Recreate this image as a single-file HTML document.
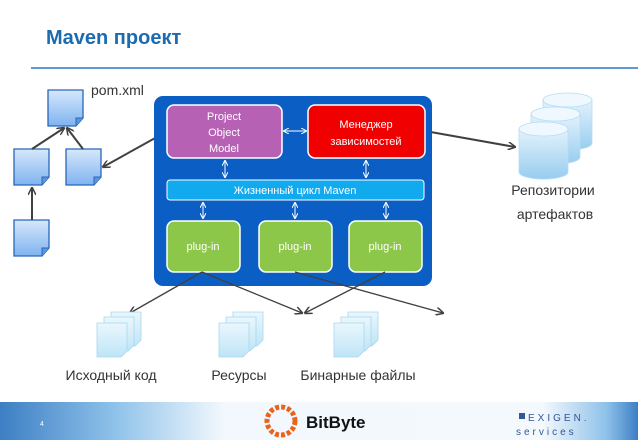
<!DOCTYPE html>
<html><head><meta charset="utf-8"><style>
body{margin:0;background:#fff;width:638px;height:442px;overflow:hidden}
svg text{font-family:"Liberation Sans","DejaVu Sans",sans-serif}
</style></head><body>
<svg width="638" height="442" viewBox="0 0 638 442" xmlns="http://www.w3.org/2000/svg">
<defs>
<linearGradient id="doc" x1="0" y1="0" x2="0" y2="1"><stop offset="0" stop-color="#d6e8fb"/><stop offset="1" stop-color="#7fb3f0"/></linearGradient>
<linearGradient id="pg" x1="0" y1="0" x2="0" y2="1"><stop offset="0" stop-color="#eaf7fd"/><stop offset="1" stop-color="#bfe5f7"/></linearGradient>
<linearGradient id="cyl" x1="0" y1="0" x2="0" y2="1"><stop offset="0" stop-color="#e3f3fc"/><stop offset="1" stop-color="#98ccf0"/></linearGradient>
<linearGradient id="foot" x1="0" y1="0" x2="1" y2="0"><stop offset="0" stop-color="#3d7fc4"/><stop offset="0.18" stop-color="#8fc2ea"/><stop offset="0.35" stop-color="#f2f8fd"/><stop offset="0.85" stop-color="#f4f9fd"/><stop offset="0.95" stop-color="#8fc2ea"/><stop offset="1" stop-color="#3d7fc4"/></linearGradient>
<marker id="ah" markerWidth="8" markerHeight="8" refX="7" refY="4" orient="auto" markerUnits="userSpaceOnUse"><path d="M0,0 L8,4 L0,8" fill="none" stroke="#404040" stroke-width="1.5"/></marker>
<marker id="wa" markerWidth="6" markerHeight="6" refX="5" refY="3" orient="auto-start-reverse" markerUnits="userSpaceOnUse"><path d="M0,0 L6,3 L0,6" fill="none" stroke="#fff" stroke-width="1"/></marker>
<g id="d"><path d="M0,0 H35 V28 L28,36 H0 Z" fill="url(#doc)" stroke="#2a66b8" stroke-width="1.3"/><path d="M35,28 L28,28 L28,36" fill="#5a95dd" stroke="#2a66b8" stroke-width="1"/></g>
<g id="p"><path d="M0,0 H30 V28 L24,34 H0 Z" fill="url(#pg)" stroke="#a9d6ee" stroke-width="0.8"/></g>
<g id="st"><use href="#p" x="14" y="0"/><use href="#p" x="7" y="5"/><use href="#p" x="0" y="11"/></g>
<g id="cy"><path d="M0,7 V50 A24,7 0 0 0 49,50 V7" fill="url(#cyl)" stroke="#b7dcf4" stroke-width="0.8"/><ellipse cx="24.5" cy="7" rx="24.5" ry="7" fill="#eef8fe" stroke="#b7dcf4" stroke-width="0.8"/></g>
</defs>

<text x="46" y="44" font-size="20" font-weight="bold" fill="#1b6bb3" font-family="DejaVu Sans,Liberation Sans,sans-serif">Maven проект</text>
<line x1="31" y1="68" x2="638" y2="68" stroke="#2a78c4" stroke-width="1.5"/>

<!-- left docs -->
<use href="#d" x="48" y="90"/>
<use href="#d" x="14" y="149"/>
<use href="#d" x="66" y="149"/>
<use href="#d" x="14" y="220"/>
<text x="91" y="95" font-size="14" fill="#333">pom.xml</text>
<g stroke="#404040" stroke-width="2" fill="none">
<line x1="32" y1="149" x2="64" y2="128" marker-end="url(#ah)"/>
<line x1="83" y1="149" x2="67" y2="128" marker-end="url(#ah)"/>
<line x1="32" y1="220" x2="32" y2="188" marker-end="url(#ah)"/>
<line x1="166" y1="132" x2="103" y2="167" marker-end="url(#ah)"/>
<line x1="425" y1="131" x2="515" y2="147" marker-end="url(#ah)"/>
</g>

<!-- container -->
<rect x="154" y="96" width="278" height="190" rx="9" fill="#0b5fc4"/>
<rect x="167" y="105" width="115" height="53" rx="7" fill="#b661b3" stroke="#fff" stroke-width="1.5"/>
<text font-size="11" fill="#fff" text-anchor="middle"><tspan x="224" y="120">Project</tspan><tspan x="224" y="136">Object</tspan><tspan x="224" y="152">Model</tspan></text>
<rect x="308" y="105" width="117" height="53" rx="7" fill="#f00000" stroke="#fff" stroke-width="1.5"/>
<text font-size="11" fill="#fff" text-anchor="middle"><tspan x="366" y="128">Менеджер</tspan><tspan x="366" y="145">зависимостей</tspan></text>
<rect x="167" y="180" width="257" height="20" rx="3" fill="#12aaee" stroke="#fff" stroke-width="1"/>
<text x="295" y="194" font-size="11" fill="#fff" text-anchor="middle">Жизненный цикл Maven</text>
<g fill="#8dc74a" stroke="#fff" stroke-width="1.5">
<rect x="167" y="221" width="73" height="51" rx="7"/>
<rect x="259" y="221" width="73" height="51" rx="7"/>
<rect x="349" y="221" width="73" height="51" rx="7"/>
</g>
<g font-size="11" fill="#fff" text-anchor="middle"><text x="203" y="250">plug-in</text><text x="295" y="250">plug-in</text><text x="385" y="250">plug-in</text></g>
<g stroke="#fff" stroke-width="1" marker-start="url(#wa)" marker-end="url(#wa)">
<line x1="284" y1="131" x2="306" y2="131"/>
<line x1="225" y1="161" x2="225" y2="177"/>
<line x1="366" y1="161" x2="366" y2="177"/>
<line x1="203" y1="203" x2="203" y2="218"/>
<line x1="295" y1="203" x2="295" y2="218"/>
<line x1="386" y1="203" x2="386" y2="218"/>
</g>

<!-- repos -->
<use href="#cy" x="543" y="93"/>
<use href="#cy" x="531" y="107"/>
<use href="#cy" x="519" y="122"/>
<text x="553" y="195" font-size="14" fill="#333" text-anchor="middle">Репозитории</text>
<text x="555" y="219" font-size="14" fill="#333" text-anchor="middle">артефактов</text>

<!-- bottom arrows -->
<g stroke="#404040" stroke-width="1.3" fill="none">
<line x1="202" y1="272" x2="130" y2="313" marker-end="url(#ah)"/>
<line x1="202" y1="272" x2="302" y2="313" marker-end="url(#ah)"/>
<line x1="295" y1="272" x2="443" y2="313" marker-end="url(#ah)"/>
<line x1="385" y1="272" x2="305" y2="313" marker-end="url(#ah)"/>
</g>
<use href="#st" x="97" y="312"/>
<use href="#st" x="219" y="312"/>
<use href="#st" x="334" y="312"/>
<text x="111" y="380" font-size="14" fill="#333" text-anchor="middle">Исходный код</text>
<text x="239" y="380" font-size="14" fill="#333" text-anchor="middle">Ресурсы</text>
<text x="358" y="380" font-size="14" fill="#333" text-anchor="middle">Бинарные файлы</text>

<!-- footer -->
<rect x="0" y="402" width="638" height="38" fill="url(#foot)"/>
<text x="40" y="426" font-size="7" fill="#fff">4</text>
<circle cx="281" cy="421" r="14" fill="none" stroke="#e8631c" stroke-width="5" stroke-dasharray="4 2"/>
<text x="306" y="428" font-size="17" font-weight="bold" fill="#111">BitByte</text>
<rect x="519" y="413" width="6" height="6" fill="#34569a"/>
<text x="528" y="421" font-size="10" fill="#34569a" letter-spacing="3">EXIGEN.</text>
<text x="516" y="435" font-size="10" fill="#34569a" letter-spacing="3">services</text>
</svg>
</body></html>
